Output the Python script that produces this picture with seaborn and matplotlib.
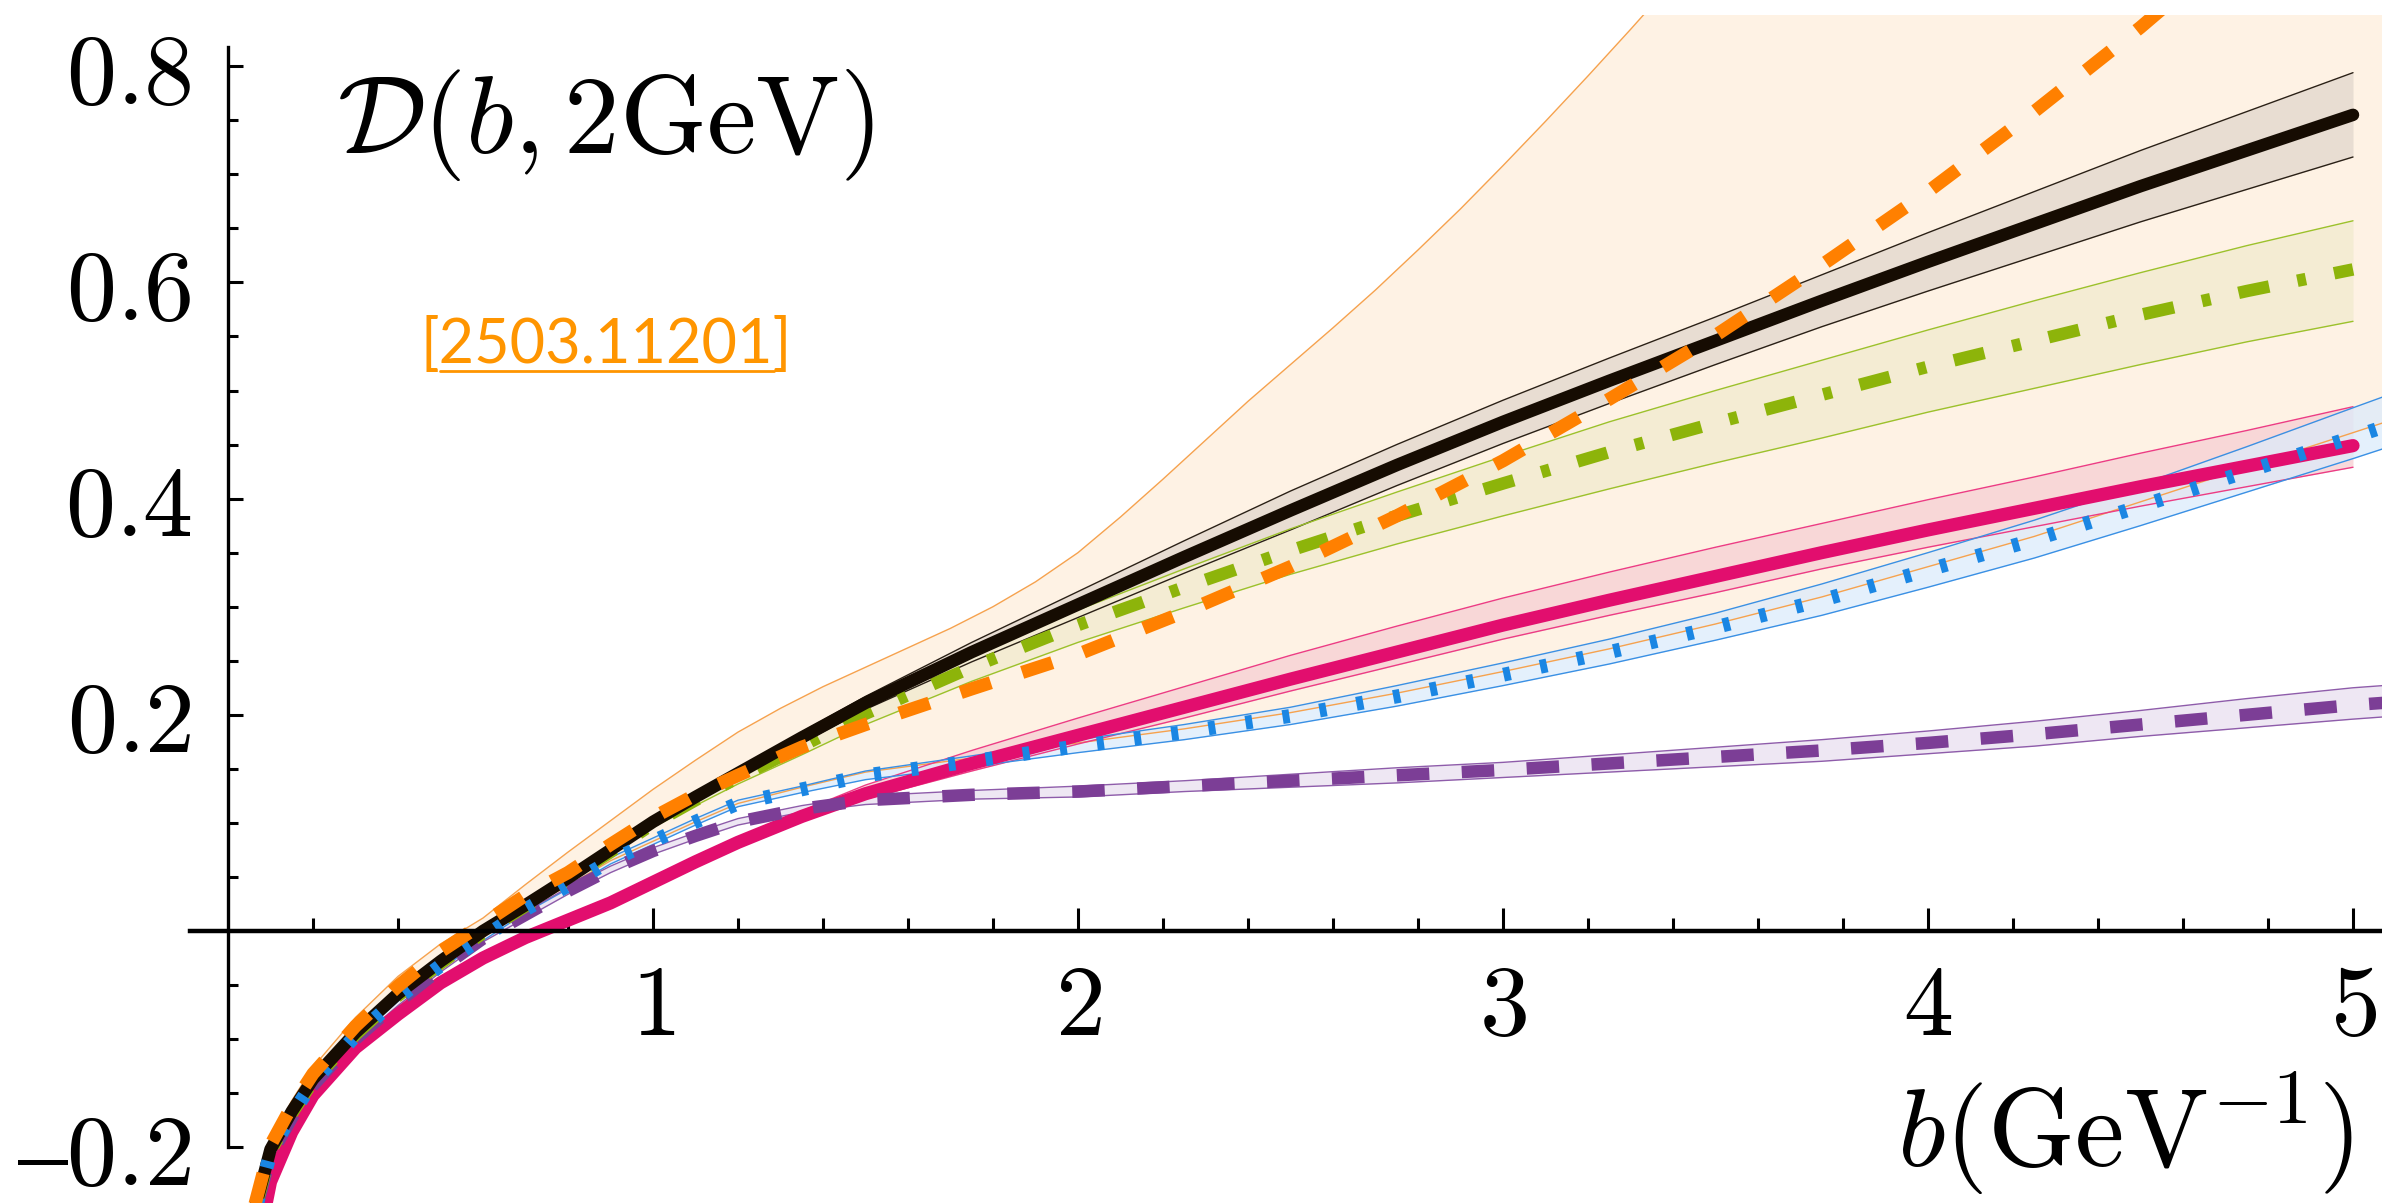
import matplotlib
matplotlib.use("Agg")
import matplotlib.pyplot as plt
import seaborn as sns

# Impact parameter grid (GeV^-1)
b = [0.06, 0.1, 0.15, 0.2, 0.3, 0.4, 0.5, 0.6, 0.7, 0.8, 0.9, 1.0, 1.1, 1.2, 1.35,
     1.5, 1.75, 2.0, 2.25, 2.5, 2.75, 3.0, 3.25, 3.5, 3.75, 4.0, 4.25, 4.5, 4.75, 5.0]
b_ext = b + [5.07]

# Black: central value and uncertainty band
black_c = [-0.262, -0.202, -0.167, -0.137, -0.094, -0.058, -0.028, 0.000, 0.024, 0.049, 0.075, 0.101, 0.124, 0.146, 0.179,
           0.211, 0.258, 0.302, 0.346, 0.389, 0.431, 0.471, 0.509, 0.546, 0.583, 0.619, 0.654, 0.689, 0.722, 0.755]
black_hi = [-0.260, -0.200, -0.165, -0.135, -0.092, -0.056, -0.026, 0.002, 0.026, 0.051, 0.077, 0.103, 0.127, 0.150, 0.184,
            0.217, 0.267, 0.314, 0.361, 0.407, 0.450, 0.491, 0.530, 0.568, 0.607, 0.646, 0.684, 0.722, 0.758, 0.794]
black_lo = [-0.264, -0.204, -0.169, -0.139, -0.096, -0.060, -0.030, -0.002, 0.022, 0.047, 0.073, 0.099, 0.121, 0.142, 0.174,
            0.205, 0.249, 0.290, 0.331, 0.371, 0.412, 0.451, 0.488, 0.524, 0.559, 0.592, 0.624, 0.656, 0.686, 0.716]

# Green
green_c = [-0.264, -0.204, -0.169, -0.139, -0.096, -0.060, -0.030, -0.002, 0.023, 0.048, 0.073, 0.099, 0.121, 0.142, 0.171,
           0.201, 0.244, 0.283, 0.318, 0.352, 0.384, 0.414, 0.443, 0.470, 0.496, 0.522, 0.546, 0.570, 0.592, 0.612]
green_hi = [-0.261, -0.201, -0.166, -0.136, -0.093, -0.057, -0.027, 0.001, 0.026, 0.051, 0.076, 0.102, 0.125, 0.147, 0.177,
            0.209, 0.255, 0.297, 0.335, 0.372, 0.406, 0.439, 0.471, 0.500, 0.528, 0.556, 0.583, 0.609, 0.634, 0.657]
green_lo = [-0.267, -0.207, -0.172, -0.142, -0.099, -0.063, -0.033, -0.005, 0.020, 0.045, 0.070, 0.096, 0.116, 0.136, 0.163,
            0.191, 0.231, 0.267, 0.299, 0.330, 0.358, 0.384, 0.409, 0.433, 0.456, 0.480, 0.502, 0.524, 0.545, 0.564]

# Orange: central value, lower edge on the common grid, upper edge on its own grid
orange_c = [-0.258, -0.198, -0.162, -0.132, -0.088, -0.051, -0.019, 0.007, 0.033, 0.054, 0.080, 0.105, 0.126, 0.144, 0.170,
            0.191, 0.224, 0.256, 0.295, 0.337, 0.384, 0.435, 0.492, 0.551, 0.616, 0.684, 0.758, 0.836, 0.920, 1.005]
orange_lo = [-0.265, -0.205, -0.170, -0.140, -0.097, -0.062, -0.032, -0.006, 0.020, 0.042, 0.065, 0.083, 0.101, 0.118, 0.133,
             0.147, 0.160, 0.174, 0.187, 0.202, 0.220, 0.240, 0.261, 0.284, 0.309, 0.337, 0.365, 0.397, 0.429, 0.461, 0.470]
b_orange_hi = [0.06, 0.1, 0.15, 0.2, 0.3, 0.4, 0.5, 0.6, 0.7, 0.8, 0.9, 1.0, 1.1, 1.2, 1.3, 1.4, 1.5, 1.6, 1.7,
               1.8, 1.9, 2.0, 2.1, 2.2, 2.3, 2.4, 2.5, 2.6, 2.7, 2.8, 2.9, 3.0, 3.1, 3.2, 3.3, 3.4, 3.5,
               3.6, 4.2, 5.07]
orange_hi = [-0.255, -0.194, -0.157, -0.126, -0.080, -0.042, -0.012, 0.012, 0.043, 0.073, 0.102, 0.131, 0.158, 0.184,
             0.206, 0.226, 0.244, 0.262, 0.280, 0.300, 0.323, 0.350, 0.383, 0.418, 0.454, 0.490, 0.524, 0.558,
             0.593, 0.630, 0.668, 0.708, 0.749, 0.791, 0.834, 0.878, 0.923, 0.970, 1.250, 1.600]

# Blue
blue_c = [-0.265, -0.205, -0.170, -0.140, -0.097, -0.062, -0.032, -0.006, 0.020, 0.042, 0.065, 0.083, 0.101, 0.118, 0.131,
          0.144, 0.157, 0.171, 0.184, 0.199, 0.217, 0.237, 0.258, 0.281, 0.306, 0.334, 0.362, 0.393, 0.425, 0.457, 0.466]
blue_hi = [-0.262, -0.202, -0.167, -0.137, -0.094, -0.059, -0.029, -0.003, 0.023, 0.045, 0.068, 0.086, 0.104, 0.121, 0.134,
           0.148, 0.162, 0.177, 0.191, 0.207, 0.227, 0.248, 0.270, 0.294, 0.321, 0.350, 0.380, 0.413, 0.448, 0.484, 0.494]
blue_lo = [-0.268, -0.208, -0.173, -0.143, -0.100, -0.065, -0.035, -0.009, 0.017, 0.039, 0.062, 0.080, 0.098, 0.115, 0.128,
           0.140, 0.152, 0.165, 0.177, 0.191, 0.208, 0.227, 0.247, 0.269, 0.292, 0.318, 0.345, 0.375, 0.406, 0.437, 0.446]

# Purple
purple_c = [-0.268, -0.208, -0.173, -0.143, -0.100, -0.066, -0.035, -0.007, 0.015, 0.037, 0.057, 0.074, 0.088, 0.101, 0.113,
            0.121, 0.126, 0.129, 0.134, 0.139, 0.144, 0.149, 0.155, 0.161, 0.167, 0.174, 0.182, 0.191, 0.200, 0.209, 0.211]
purple_hi = [-0.265, -0.205, -0.170, -0.140, -0.097, -0.063, -0.032, -0.004, 0.018, 0.040, 0.060, 0.077, 0.091, 0.104, 0.116,
             0.125, 0.130, 0.134, 0.139, 0.145, 0.151, 0.156, 0.163, 0.170, 0.177, 0.185, 0.194, 0.204, 0.215, 0.225, 0.227]
purple_lo = [-0.271, -0.211, -0.176, -0.146, -0.103, -0.069, -0.038, -0.010, 0.012, 0.034, 0.054, 0.071, 0.085, 0.098, 0.110,
             0.117, 0.122, 0.124, 0.129, 0.133, 0.137, 0.142, 0.147, 0.152, 0.157, 0.164, 0.171, 0.180, 0.188, 0.196, 0.198]

# Pink
pink_c = [-0.310, -0.232, -0.186, -0.152, -0.108, -0.077, -0.048, -0.025, -0.006, 0.010, 0.026, 0.045, 0.064, 0.082, 0.106,
          0.127, 0.155, 0.181, 0.207, 0.233, 0.258, 0.283, 0.306, 0.328, 0.350, 0.371, 0.391, 0.411, 0.430, 0.449]
pink_hi = [-0.307, -0.229, -0.183, -0.149, -0.105, -0.074, -0.045, -0.022, -0.003, 0.013, 0.029, 0.048, 0.067, 0.085, 0.111,
           0.135, 0.167, 0.197, 0.226, 0.255, 0.282, 0.308, 0.332, 0.355, 0.377, 0.399, 0.420, 0.442, 0.463, 0.485]
pink_lo = [-0.313, -0.235, -0.189, -0.155, -0.111, -0.080, -0.051, -0.028, -0.009, 0.007, 0.023, 0.042, 0.061, 0.079, 0.102,
           0.122, 0.148, 0.173, 0.197, 0.222, 0.246, 0.270, 0.292, 0.313, 0.335, 0.355, 0.374, 0.393, 0.411, 0.429]

x_major = [1, 2, 3, 4, 5]
x_minor = [0.2, 0.4, 0.6, 0.8, 1.2, 1.4, 1.6, 1.8, 2.2, 2.4, 2.6, 2.8, 3.2, 3.4, 3.6, 3.8,
           4.2, 4.4, 4.6, 4.8]
y_major = [-0.2, 0.2, 0.4, 0.6, 0.8]
y_labels = ["$\u20130.2$", "$0.2$", "$0.4$", "$0.6$", "$0.8$"]
y_minor = [-0.15, -0.1, -0.05, 0.05, 0.1, 0.15, 0.25, 0.3, 0.35, 0.45, 0.5, 0.55,
           0.65, 0.7, 0.75]

sns.set_theme(style="white")
plt.rcParams["mathtext.fontset"] = "cm"
plt.rcParams["font.family"] = ["DejaVu Serif"]

W, H = 2382, 1203
fig = plt.figure(figsize=(W / 100, H / 100), dpi=100)
ax = fig.add_axes([0, 0, 1, (H - 15) / H])
ax.set_xlim(-228 / 425, (W - 228) / 425)
ax.set_ylim((931 - H) / 1081, (931 - 15) / 1081)
ax.set_facecolor("white")

EDGE_LW = 1.0

# Wide orange band: polygon from the upper edge and the reversed lower edge
ax.fill(b_orange_hi + b_ext[::-1], orange_hi + orange_lo[::-1], color="#FEF2E4", lw=0, zorder=1.0)
ax.plot(b_orange_hi, orange_hi, color="#F6A24E", lw=EDGE_LW, zorder=3)
ax.plot(b_ext, orange_lo, color="#F6A24E", lw=EDGE_LW, zorder=3)


def band(x, lo, hi, face, edge, alpha=1.0, z=1.5):
    ax.fill_between(x, lo, hi, color=face, alpha=alpha, lw=0, zorder=z)
    ax.plot(x, lo, color=edge, lw=EDGE_LW, zorder=3)
    ax.plot(x, hi, color=edge, lw=EDGE_LW, zorder=3)


band(b, black_lo, black_hi, "#E8DDD2", "#2a2016", z=1.5)
band(b, green_lo, green_hi, "#F4ECD3", "#9CC12B", z=1.5)
band(b, pink_lo, pink_hi, "#F7D3D5", "#EC3C84", alpha=0.85, z=1.6)
band(b_ext, blue_lo, blue_hi, "#DCEBFB", "#3A90E4", alpha=0.75, z=1.7)
band(b_ext, purple_lo, purple_hi, "#EEE7F3", "#8E5CAA", z=1.7)


def central(x, y, color, lw, dashes=None, z=4):
    sns.lineplot(x=x, y=y, ax=ax, color=color, linewidth=lw, estimator=None,
                 sort=False, zorder=z, legend=False)
    line = ax.lines[-1]
    if dashes is not None:
        line.set_dashes(dashes)
        line.set_dash_capstyle("butt")


central(b, pink_c, "#E20E6E", 9.5, z=4.0)
central(b_ext, purple_c, "#7C3E96", 9.0, dashes=(2.6, 2.6), z=4.2)
central(b, green_c, "#8DB40A", 9.0, dashes=(2.5, 2.3, 0.7, 2.3), z=4.4)
central(b, black_c, "#160C02", 9.0, z=4.6)
central(b_ext, blue_c, "#1A86E3", 10.0, dashes=(0.5, 2.2), z=4.8)
central(b, orange_c, "#FF8000", 9.5, dashes=(2.4, 2.5), z=5.0)

# Axes through the origin
for side in ("top", "right"):
    ax.spines[side].set_visible(False)
ax.spines["left"].set_position(("data", 0))
ax.spines["bottom"].set_position(("data", 0))
ax.spines["left"].set_bounds(-0.2, 0.818)
ax.spines["bottom"].set_bounds(-0.09, 5.07)
ax.spines["left"].set_linewidth(2.4)
ax.spines["bottom"].set_linewidth(3.2)
for side in ("left", "bottom"):
    ax.spines[side].set_color("black")
    ax.spines[side].set_zorder(6)

ax.set_xticks(x_major, labels=[rf"${v}$" for v in x_major])
ax.set_xticks(x_minor, minor=True)
ax.set_yticks(y_major, labels=y_labels)
ax.set_yticks(y_minor, minor=True)
ax.tick_params(bottom=True, left=True, which="both", direction="in", color="black",
               width=2.2, labelcolor="black")
ax.tick_params(axis="x", which="major", length=16.5, pad=21, labelsize=72)
ax.tick_params(axis="x", which="minor", length=9.4)
ax.tick_params(axis="y", which="major", length=11, pad=26, labelsize=72)
ax.tick_params(axis="y", which="minor", length=7)

fig.text(337 / W, 1 - 125 / H, r"$\mathcal{D}(b,2\mathrm{GeV})$", fontsize=80,
         ha="left", va="center", color="black")
fig.text(2353 / W, 6 / H, r"$b(\mathrm{GeV}^{-1})$", fontsize=80,
         ha="right", va="bottom", color="black")

ref_kw = dict(fontsize=44, family="Lato", color="#FF9500")
ref = fig.text(421 / W, 1 - 363 / H, "[2503.11201]", ha="left", va="baseline", **ref_kw)
fig.canvas.draw()
rend = fig.canvas.get_renderer()
bb = ref.get_window_extent(rend)
probe = fig.text(0, 0, "[", **ref_kw)
bw = probe.get_window_extent(rend).width
probe.remove()
y_ul = (H - 371) / H
fig.add_artist(plt.Line2D([(bb.x0 + bw) / W, (bb.x1 - bw) / W], [y_ul, y_ul],
                          color="#FF9500", lw=2.0, transform=fig.transFigure))

fig.savefig("out.png", dpi=100, facecolor="white")
